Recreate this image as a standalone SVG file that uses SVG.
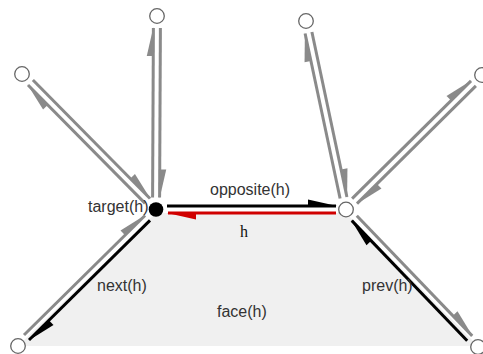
<svg xmlns="http://www.w3.org/2000/svg" width="483" height="354" viewBox="0 0 483 354">
<style>
.e{fill:none;stroke-width:3;stroke-linecap:butt}
.g{stroke:#8a8a8a;marker-end:url(#mg)}
.k{stroke:#000;marker-end:url(#mk)}
.r{stroke:#d00000;marker-end:url(#mr)}
.n{fill:#fff;stroke:#666;stroke-width:1.3}
.lbl{font-family:"Liberation Sans",Arial,sans-serif;font-size:16px;fill:#333}
.ser{font-family:"Liberation Serif","Times New Roman",serif;font-size:16px;fill:#111}
</style>
<defs>
<marker id="mg" markerUnits="userSpaceOnUse" orient="auto" overflow="visible" refX="0" refY="0" markerWidth="1" markerHeight="1"><path d="M1,0 L-28,-6.5 L-28,0 Z" fill="#8a8a8a"/></marker>
<marker id="mk" markerUnits="userSpaceOnUse" orient="auto" overflow="visible" refX="0" refY="0" markerWidth="1" markerHeight="1"><path d="M1,0 L-28,-6.5 L-28,0 Z" fill="#000"/></marker>
<marker id="mr" markerUnits="userSpaceOnUse" orient="auto" overflow="visible" refX="0" refY="0" markerWidth="1" markerHeight="1"><path d="M1,0 L-28,-6.5 L-28,0 Z" fill="#d00000"/></marker>
</defs>
<g id="face">
<polygon points="156,213 346,213 478,346 18,346" fill="#f0f0f0"/>
<text class="lbl" x="217" y="317">face(h)</text>
</g>
<g id="connectors">
<line class="e g" x1="152.6" y1="197.5" x2="153.4" y2="28"/>
<line class="e g" x1="160.4" y1="28" x2="159.6" y2="197.5"/>
<line class="e g" x1="145.1" y1="203.4" x2="28" y2="85"/>
<line class="e g" x1="32.9" y1="80" x2="150" y2="198.5"/>
<line class="e g" x1="340.1" y1="198.5" x2="305.1" y2="33.5"/>
<line class="e g" x1="311.9" y1="32" x2="346.9" y2="197"/>
<line class="e g" x1="352.1" y1="198.6" x2="471" y2="80.9"/>
<line class="e g" x1="475.9" y1="85.9" x2="357" y2="203.6"/>
<line class="e k" x1="150" y1="220.4" x2="29" y2="340"/>
<line class="e g" x1="24" y1="335" x2="145" y2="215.5"/>
<line class="e g" x1="356.8" y1="215.7" x2="472.2" y2="335.9"/>
<line class="e k" x1="467.2" y1="340.8" x2="351.8" y2="220.6"/>
<line class="e k" x1="167" y1="206" x2="336" y2="206"/>
<line class="e r" x1="336" y1="213" x2="168" y2="213"/>
<text class="lbl" x="210" y="195">opposite(h)</text>
<text class="ser" x="240" y="237">h</text>
<text class="lbl" x="97" y="291">next(h)</text>
<text class="lbl" x="362" y="291">prev(h)</text>
</g>
<g id="node-target">
<circle cx="156" cy="209.5" r="7.3" fill="#000"/>
<text class="lbl" x="88" y="212">target(h)</text>
</g>
<g id="node-right"><circle class="n" cx="346" cy="209.5" r="7.3"/></g>
<g id="node-a"><circle class="n" cx="22" cy="74" r="7.3"/></g>
<g id="node-b"><circle class="n" cx="157" cy="16" r="7.3"/></g>
<g id="node-c"><circle class="n" cx="306" cy="21" r="7.3"/></g>
<g id="node-d"><circle class="n" cx="482" cy="75" r="7.3"/></g>
<g id="node-e"><circle class="n" cx="18" cy="346" r="7.3"/></g>
<g id="node-f"><circle class="n" cx="478" cy="347" r="7.3"/></g>
</svg>
